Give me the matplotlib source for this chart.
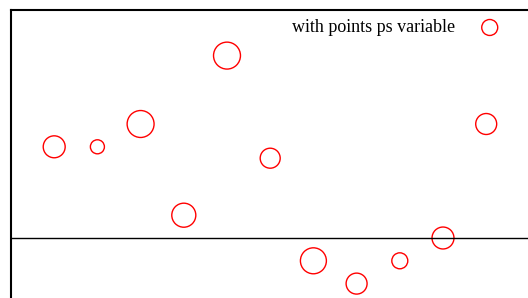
import matplotlib
matplotlib.use("Agg")
import matplotlib.pyplot as plt

# data
xs = [1, 2, 3, 4, 5, 6, 7, 8, 9, 10, 11]
ys = [4, 4, 5, 1, 8, 3.5, -1, -2, -1, 0, 5]
# point diameters in points ("ps variable")
ps = [15.8, 10.1, 19.4, 17.3, 19.4, 14.4, 18.7, 15.1, 11.5, 15.8, 15.1]
label = "with points ps variable"

plt.rcParams['font.family'] = ['Liberation Serif', 'DejaVu Serif']

fig = plt.figure(figsize=(5.28, 2.98), dpi=100)
W, H = 528, 298
left, top = 11, 10
ax_w, ax_h = 522, 456
ax = fig.add_axes([left / W, (H - top - ax_h) / H, ax_w / W, ax_h / H])

sc = ax.scatter(xs, ys, s=[p ** 2 for p in ps], facecolors='none',
                edgecolors='red', linewidths=1.0, label=label)
ax.axhline(0, color='black', lw=1.0)

ax.set_xlim(0, ax_w / 43.2)
ax.set_ylim(-10, 10)
ax.set_xticks([])
ax.set_yticks([])
for sp in ax.spines.values():
    sp.set_linewidth(1.5)

leg = ax.legend(loc='upper right', frameon=False, markerfirst=False,
                fontsize=13, scatterpoints=1, handletextpad=0.9,
                bbox_to_anchor=(515 / W, 1 - 12 / H),
                bbox_transform=fig.transFigure, borderaxespad=0)
leg.legend_handles[0].set_sizes([11.5 ** 2])

fig.savefig("out.png", dpi=100)
